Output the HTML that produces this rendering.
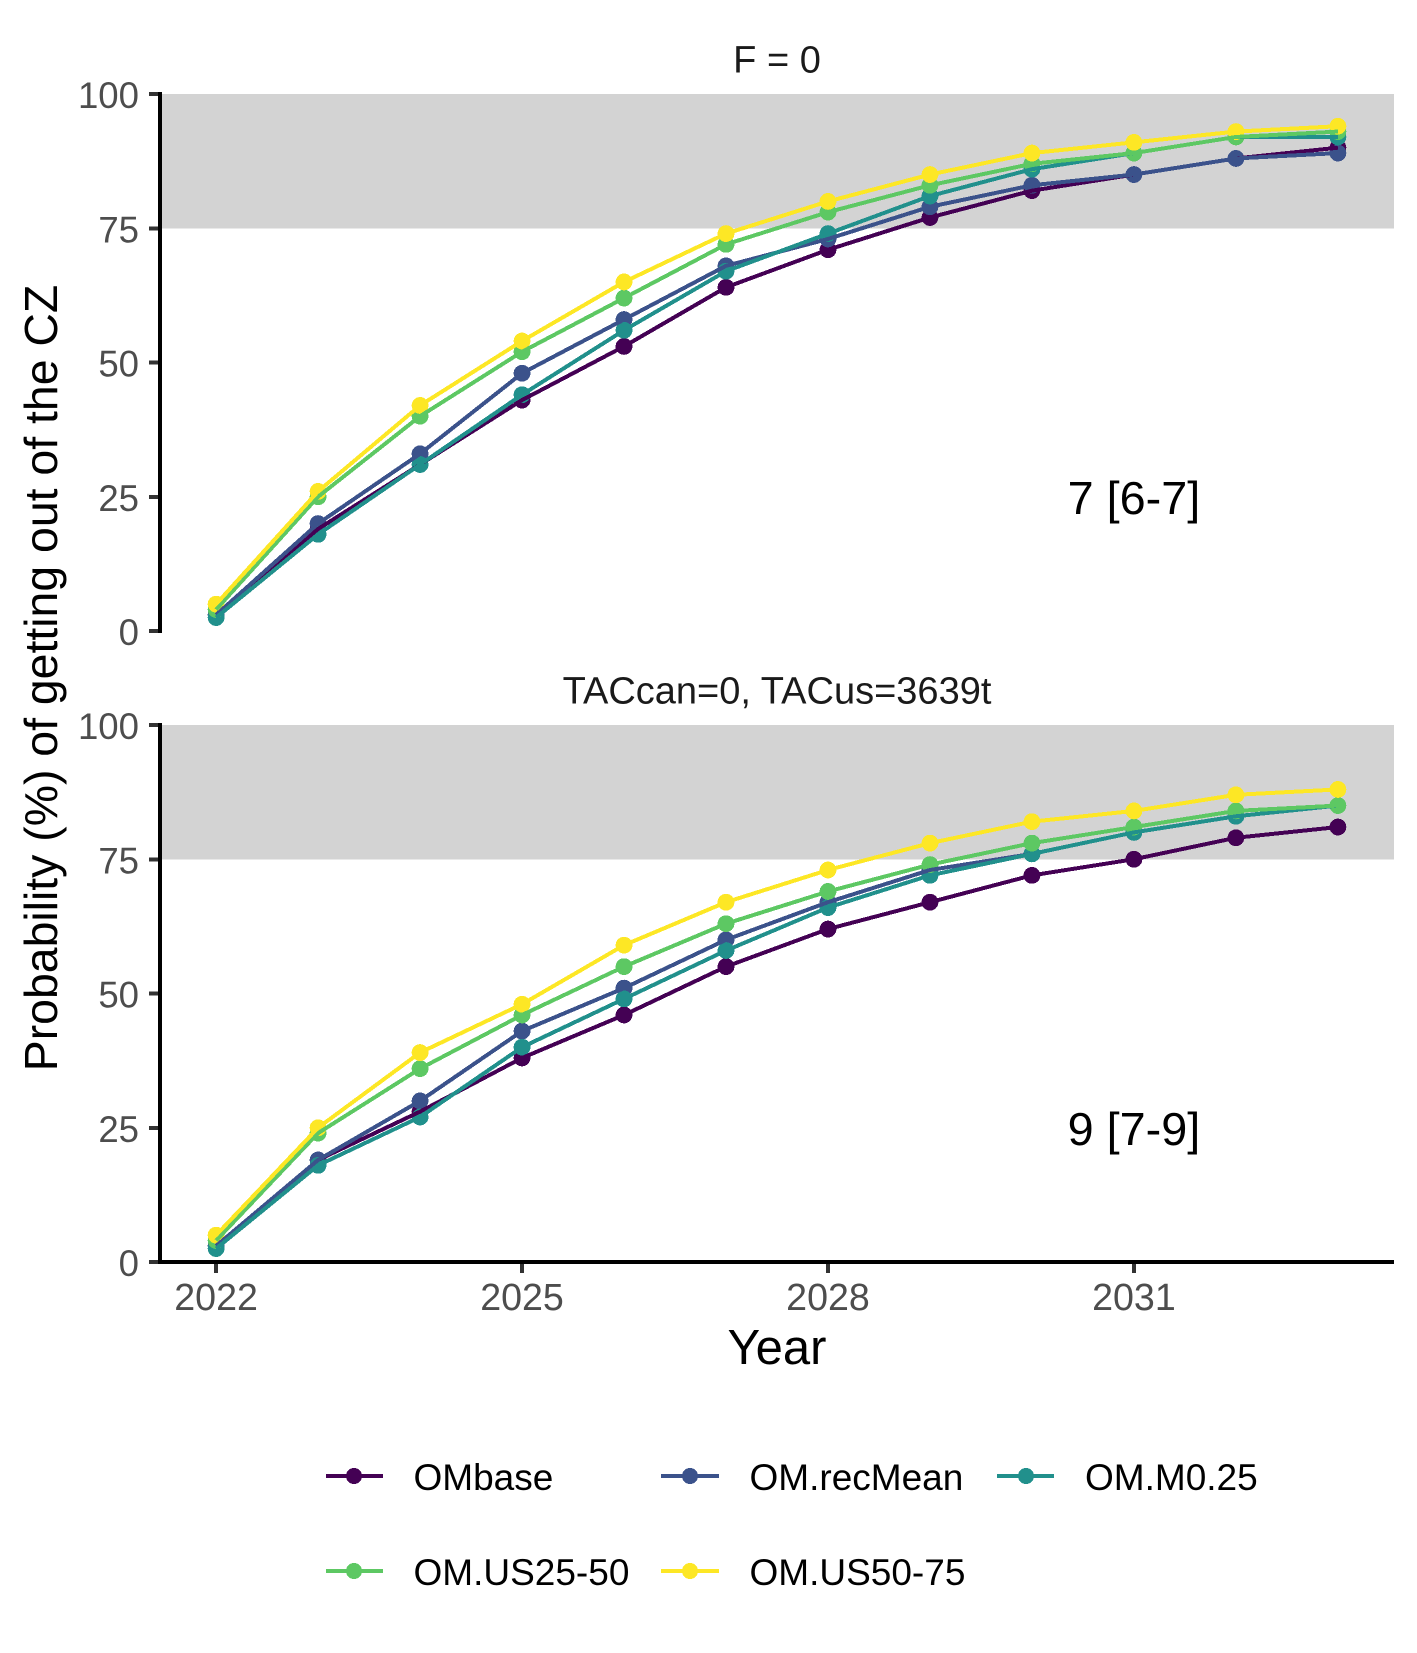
<!DOCTYPE html>
<html lang="en">
<head>
<meta charset="utf-8">
<title>Probability of getting out of the CZ</title>
<style>
html,body{margin:0;padding:0;background:#fff;width:1417px;height:1653px;overflow:hidden}
svg{display:block;font-family:"Liberation Sans",sans-serif}
.tick-label{font-size:37.6px;fill:#4d4d4d}
.y-label{font-size:36.6px;fill:#4d4d4d}
.strip{font-size:38px;fill:#1a1a1a;text-anchor:middle}
.axis-title{font-size:46.4px;fill:#000}
.x-title{font-size:49px;fill:#000}
.annot{font-size:46.8px;fill:#000;text-anchor:middle}
.legend-text{font-size:37px;fill:#000}
.crisp{shape-rendering:crispEdges}
</style>
</head>
<body>
<svg id="chart" xmlns="http://www.w3.org/2000/svg" width="1417" height="1653" viewBox="0 0 1417 1653">
  <rect x="0" y="0" width="1417" height="1653" fill="#ffffff"/>
  <text class="axis-title" transform="translate(57,678) rotate(-90)" text-anchor="middle">Probability (%) of getting out of the CZ</text>
  <text class="x-title" x="777" y="1364" text-anchor="middle">Year</text>
  <g>
    <g class="crisp">
      <circle cx="354" cy="1476" r="8" fill="#440154"/><line x1="326" x2="383" y1="1476" y2="1476" stroke="#440154" stroke-width="4"/>
      <text class="legend-text" x="413.5" y="1490">OMbase</text>
    </g>
    <g class="crisp">
      <circle cx="690" cy="1476" r="8" fill="#3B528B"/><line x1="661" x2="719" y1="1476" y2="1476" stroke="#3B528B" stroke-width="4"/>
      <text class="legend-text" x="749.5" y="1490">OM.recMean</text>
    </g>
    <g class="crisp">
      <circle cx="1026" cy="1476" r="8" fill="#21908C"/><line x1="997" x2="1054" y1="1476" y2="1476" stroke="#21908C" stroke-width="4"/>
      <text class="legend-text" x="1085" y="1490">OM.M0.25</text>
    </g>
    <g class="crisp">
      <circle cx="354" cy="1571" r="8" fill="#5DC863"/><line x1="326" x2="383" y1="1571" y2="1571" stroke="#5DC863" stroke-width="4"/>
      <text class="legend-text" x="413.5" y="1585">OM.US25-50</text>
    </g>
    <g class="crisp">
      <circle cx="690" cy="1571" r="8" fill="#FDE725"/><line x1="661" x2="719" y1="1571" y2="1571" stroke="#FDE725" stroke-width="4"/>
      <text class="legend-text" x="749.5" y="1585">OM.US50-75</text>
    </g>
  </g>
</svg>
<script>
const years = [2022,2023,2024,2025,2026,2027,2028,2029,2030,2031,2032,2033];
const xTickYears = [2022,2025,2028,2031];
const yTicks = [0,25,50,75,100];
const seriesNames = ["OMbase","OM.recMean","OM.M0.25","OM.US25-50","OM.US50-75"];
const seriesColors = ["#440154","#3B528B","#21908C","#5DC863","#FDE725"];
const panelTitles = ["F = 0","TACcan=0, TACus=3639t"];
const panelNotes = ["7 [6-7]","9 [7-9]"];
const noteYear = 2031;
const noteValue = 25;
const zoneLow = 75;
const zoneHigh = 100;

const panel1OMbase = [3,19,31,43,53,64,71,77,82,85,88,90];
const panel1RecMean = [3,20,33,48,58,68,73,79,83,85,88,89];
const panel1M025 = [2.5,18,31,44,56,67,74,81,86,89,92,92];
const panel1US2550 = [4,25,40,52,62,72,78,83,87,89,92,93];
const panel1US5075 = [5,26,42,54,65,74,80,85,89,91,93,94];

const panel2OMbase = [3,19,28,38,46,55,62,67,72,75,79,81];
const panel2RecMean = [3,19,30,43,51,60,67,73,76,80,83,85];
const panel2M025 = [2.5,18,27,40,49,58,66,72,76,80,83,85];
const panel2US2550 = [4,24,36,46,55,63,69,74,78,81,84,85];
const panel2US5075 = [5,25,39,48,59,67,73,78,82,84,87,88];

const panel1Series = [panel1OMbase,panel1RecMean,panel1M025,panel1US2550,panel1US5075];
const panel2Series = [panel2OMbase,panel2RecMean,panel2M025,panel2US2550,panel2US5075];
const allPanels = [panel1Series,panel2Series];

const NS = "http://www.w3.org/2000/svg";
const svg = document.getElementById("chart");
const plotLeft = 160, plotRight = 1394;
const panelTops = [94,725];
const panelHeight = 537;

function xScale(year){
  const span = years[years.length-1] - years[0];
  const pad = span * 0.05;
  return plotLeft + (year - years[0] + pad) / (span + 2*pad) * (plotRight - plotLeft);
}
function yScale(value, panelIndex){
  return panelTops[panelIndex] + (100 - value) / 100 * panelHeight;
}
function make(tag, parent, attrs){
  const el = document.createElementNS(NS, tag);
  for (const k in attrs) el.setAttribute(k, attrs[k]);
  parent.appendChild(el);
  return el;
}

allPanels.forEach(function(panelSeries, p){
  const panel = make("g", svg, {});
  
  

  const zone = make("rect", panel, {
    x: plotLeft,
    y: yScale(zoneHigh,p),
    width: plotRight-plotLeft,
    height: yScale(zoneLow,p)-yScale(zoneHigh,p),
    fill: "#D3D3D3",
    "class": "crisp"
  });
  
  

  const title = make("text", panel, {x:(plotLeft+plotRight)/2, y:yScale(100,p)-21.5, "class":"strip"});
  title.textContent = panelTitles[p];
  
  

  yTicks.forEach(function(t){
    const y = yScale(t,p);
    const tick = make("line", panel, {x1:149, x2:159, y1:y, y2:y, stroke:"#333333", "stroke-width":4, "class":"crisp"});
    
    
    const label = make("text", panel, {x:139, y:y+14, "text-anchor":"end", "class":"y-label"});
    label.textContent = t;
    
    
  });

  const yAxis = make("line", panel, {x1:plotLeft, x2:plotLeft, y1:yScale(100,p)-2, y2:yScale(0,p)+2, stroke:"#000", "stroke-width":4, "class":"crisp"});
  
  

  if (p === 1) {
    const xAxis = make("line", panel, {x1:plotLeft-2, x2:plotRight, y1:yScale(0,p), y2:yScale(0,p), stroke:"#000", "stroke-width":4, "class":"crisp"});
    
    
    xTickYears.forEach(function(yr){
      const x = xScale(yr);
      const tick = make("line", panel, {x1:x, x2:x, y1:yScale(0,p)+2, y2:yScale(0,p)+11, stroke:"#333333", "stroke-width":4, "class":"crisp"});
      
      
      const label = make("text", panel, {x:x, y:1310, "text-anchor":"middle", "class":"tick-label"});
      label.textContent = yr;
      
      
    });
  }

  panelSeries.forEach(function(values, s){
    values.forEach(function(v, i){
      const pt = make("circle", panel, {cx:xScale(years[i]), cy:yScale(v,p), r:8.4, fill:seriesColors[s], "class":"crisp"});
      
      
    });
  });
  panelSeries.forEach(function(values, s){
    const pts = values.map(function(v,i){ return xScale(years[i]) + "," + yScale(v,p); }).join(" ");
    const line = make("polyline", panel, {points:pts, fill:"none", stroke:seriesColors[s], "stroke-width":4, "stroke-linejoin":"round", "class":"crisp"});
    
    
  });

  const note = make("text", panel, {x:xScale(noteYear), y:yScale(noteValue,p)+17, "class":"annot"});
  note.textContent = panelNotes[p];
  
  
});
</script>
</body>
</html>
